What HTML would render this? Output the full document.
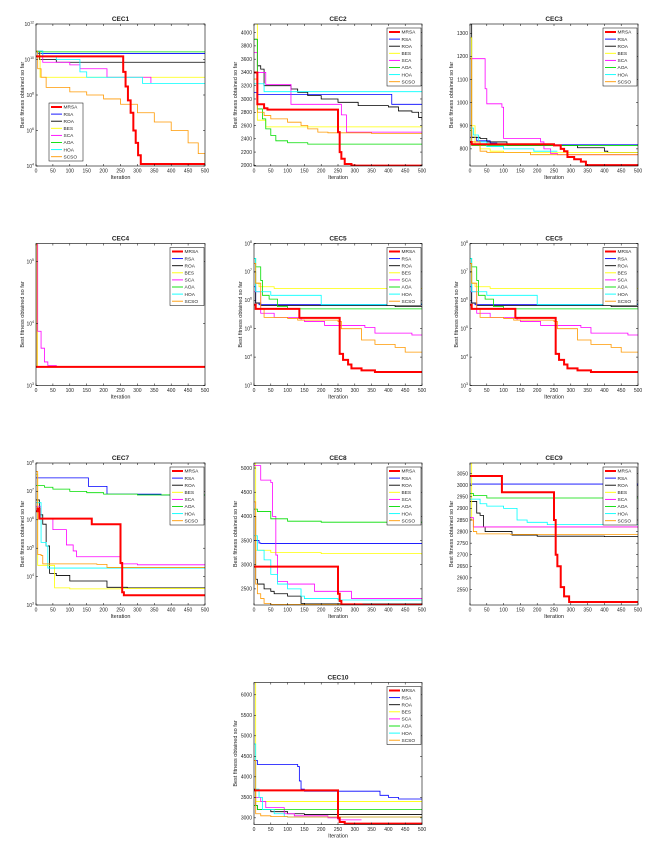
<!DOCTYPE html>
<html><head><meta charset="utf-8"><style>
html,body{margin:0;padding:0;background:#fff}
svg{display:block;font-family:"Liberation Sans",sans-serif}
</style></head><body>
<svg id="fig" width="653" height="844" viewBox="0 0 653 844" xmlns="http://www.w3.org/2000/svg"></svg>
<script>
// ---- data: step points [iteration, best fitness] ----
const seriesNames = ["MRSA","RSA","ROA","BES","SCA","AOA","HOA","SCSO"];
const seriesColors = ["#ff0000","#0000ff","#000000","#ffff00","#ff00ff","#00dd00","#00ffff","#ff9900"];
const xTicks = [0,50,100,150,200,250,300,350,400,450,500];

const cec1_MRSA=[[0,1.5e10],[250,1.5e10],[258,2e9],[265,3e8],[272,5e7],[280,1e7],[288,1e6],[295,2e5],[302,4e4],[310,1.3e4],[500,1.2e4]];
const cec1_RSA=[[0,3e10],[5,2.2e10],[500,2.2e10]];
const cec1_ROA=[[0,3e10],[10,1e10],[60,7e9],[500,7e9]];
const cec1_BES=[[0,3e10],[12,1e9],[500,1e9]];
const cec1_SCA=[[0,3e10],[20,7e9],[100,5e9],[130,3e9],[210,1e9],[340,4.6e8]];
const cec1_AOA=[[0,2.7e10],[500,2.6e10]];
const cec1_HOA=[[0,3e10],[20,1.5e10],[60,1e10],[130,2e9],[150,1e9],[315,4.5e8],[500,4.5e8]];
const cec1_SCSO=[[0,3e10],[5,3e9],[15,1e9],[30,2.7e8],[100,1.5e8],[150,1e8],[200,6e7],[250,3e7],[300,1e7],[350,3e6],[400,1e6],[450,2e5],[480,5e4],[500,1.5e4]];

const cec2_MRSA=[[0,3400],[10,2920],[30,2860],[40,2840],[250,2500],[255,2200],[260,2100],[270,2020],[290,2000],[300,1995],[500,1995]];
const cec2_RSA=[[0,3100],[10,3070],[410,2920],[500,2920]];
const cec2_ROA=[[0,3900],[10,3500],[20,3450],[30,3200],[110,3150],[130,3100],[160,3050],[200,3000],[250,2950],[310,2900],[400,2880],[430,2820],[470,2800],[490,2720],[500,2680]];
const cec2_BES=[[0,4130],[10,2680],[35,2580],[500,2580]];
const cec2_SCA=[[0,3700],[10,3400],[35,3220],[110,2920],[260,2760],[275,2500],[500,2500]];
const cec2_AOA=[[0,3900],[10,2850],[25,2700],[35,2550],[50,2450],[65,2370],[100,2340],[160,2320],[500,2320]];
const cec2_HOA=[[0,3230],[30,3110],[500,3110]];
const cec2_SCSO=[[0,3300],[10,2800],[30,2750],[50,2700],[100,2650],[140,2600],[160,2550],[190,2500],[220,2490],[350,2480],[500,2480]];

const cec3_MRSA=[[0,830],[5,820],[250,815],[270,800],[280,790],[290,765],[310,755],[330,745],[345,730],[500,730]];
const cec3_RSA=[[0,850],[20,835],[60,825],[80,818],[500,818]];
const cec3_ROA=[[0,1340],[5,850],[30,845],[50,830],[110,815],[265,815],[320,805],[400,790],[410,785],[500,785]];
const cec3_BES=[[0,1280],[5,900],[15,820],[30,800],[60,790],[100,785],[500,785]];
const cec3_SCA=[[0,1190],[45,1060],[50,995],[95,980],[100,845],[210,830],[220,800],[240,780],[260,775],[500,775]];
const cec3_AOA=[[0,880],[5,815],[500,815]];
const cec3_HOA=[[0,890],[10,860],[25,830],[50,810],[100,800],[190,790],[260,790]];
const cec3_SCSO=[[0,1190],[5,830],[30,790],[50,785],[180,775],[500,775]];

const cec4_MRSA=[[0,2e3],[500,2e3]];
const cec4_RSA=[[0,2e3],[500,2e3]];
const cec4_ROA=[[0,2e3],[500,2e3]];
const cec4_BES=[[0,1.95e5],[4,2e3],[500,2e3]];
const cec4_SCA=[[0,1.9e5],[5,7.5e3],[15,4e3],[25,2.4e3],[35,2.1e3],[60,2e3],[500,2e3]];
const cec4_AOA=[[0,2e3],[500,2e3]];
const cec4_HOA=[[0,2e3],[500,2e3]];
const cec4_SCSO=[[0,1.9e5],[3,2e3],[500,2e3]];

const cec5_MRSA=[[0,7e5],[5,5e5],[135,2.4e5],[255,1.3e4],[265,8e3],[280,5.5e3],[290,4e3],[320,3.4e3],[360,3e3],[500,3e3]];
const cec5_RSA=[[0,3e6],[5,8e5],[15,7e5],[500,7e5]];
const cec5_ROA=[[0,1e7],[5,8e5],[20,6.5e5],[420,6e5],[500,5.5e5]];
const cec5_BES=[[0,2e7],[5,4e6],[15,3e6],[60,2.6e6],[500,2.6e6]];
const cec5_SCA=[[0,2e6],[20,3.5e5],[60,2.5e5],[140,2e5],[150,1.8e5],[210,1.3e5],[330,1.1e5],[360,7e4],[470,6e4],[500,6e4]];
const cec5_AOA=[[0,3e7],[5,1.5e7],[20,5e6],[25,1.5e6],[45,1.1e6],[70,6e5],[100,5e5],[500,5e5]];
const cec5_HOA=[[0,3e7],[5,2e6],[50,1.5e6],[200,7e5],[480,7.5e5],[500,7.5e5]];
const cec5_SCSO=[[0,2e7],[5,4e6],[20,5e5],[30,2.5e5],[100,2.3e5],[130,2e5],[250,1.8e5],[260,1e5],[300,1e5],[320,4e4],[360,2.8e4],[420,2.2e4],[450,1.5e4],[500,1.5e4]];

const cec7_MRSA=[[0,2e6],[5,2.5e6],[10,1.1e6],[165,7e5],[250,3e4],[255,2.8e3],[260,2.2e3],[500,2.2e3]];
const cec7_RSA=[[0,3e7],[155,1.5e7],[210,8e6],[370,7.5e6],[500,7.5e6]];
const cec7_ROA=[[0,5e6],[10,1.5e6],[20,7e5],[30,1.2e5],[40,1.3e4],[60,1.1e4],[100,7e3],[210,4.2e3],[270,4e3],[500,4e3]];
const cec7_BES=[[0,4e7],[5,2.5e4],[55,4e3],[100,3.7e3],[250,3.8e3],[500,3.8e3]];
const cec7_SCA=[[0,3e6],[15,1.1e6],[50,4.5e5],[90,1.3e5],[110,8e4],[120,5e4],[250,2.8e4],[300,2.6e4],[500,2.5e4]];
const cec7_AOA=[[0,1.6e7],[25,1.4e7],[50,1.2e7],[100,1e7],[150,9e6],[200,8e6],[300,7.5e6],[500,7.3e6]];
const cec7_HOA=[[0,4e6],[15,1.6e5],[30,1.2e5],[35,2e4],[500,2e4]];
const cec7_SCSO=[[0,5e7],[5,6e4],[15,5.5e4],[20,2.8e4],[180,2.7e4],[210,2.1e4],[500,2.1e4]];

const cec8_MRSA=[[0,2960],[250,2400],[255,2250],[260,2180],[320,2170],[500,2170]];
const cec8_RSA=[[0,3500],[15,3450],[20,3440],[500,3440]];
const cec8_ROA=[[0,4000],[5,2700],[10,2600],[30,2500],[50,2450],[60,2400],[100,2350],[140,2200],[150,2190],[500,2190]];
const cec8_BES=[[0,5100],[5,3300],[50,3250],[200,3230],[500,3200]];
const cec8_SCA=[[0,5050],[20,4750],[50,4700],[55,4000],[65,3200],[70,2650],[100,2600],[180,2450],[290,2300],[500,2290]];
const cec8_AOA=[[0,4150],[10,4100],[50,3950],[100,3900],[200,3880],[500,3880]];
const cec8_HOA=[[0,3600],[10,3300],[30,3100],[50,2800],[70,2600],[100,2500],[140,2350],[150,2300],[250,2270],[500,2270]];
const cec8_SCSO=[[0,4300],[5,2600],[10,2400],[20,2300],[30,2200],[50,2180],[500,2180]];

const cec9_MRSA=[[0,3040],[95,2970],[250,2850],[255,2700],[260,2650],[270,2560],[280,2520],[295,2496],[500,2496]];
const cec9_RSA=[[0,3005],[500,2998]];
const cec9_ROA=[[0,2930],[20,2880],[30,2870],[40,2820],[45,2800],[125,2785],[200,2780],[400,2778],[500,2775]];
const cec9_BES=[[0,3096],[5,2850],[10,2820],[500,2820]];
const cec9_SCA=[[0,2860],[10,2820],[500,2815]];
const cec9_AOA=[[0,2965],[10,2955],[50,2945],[500,2945]];
const cec9_HOA=[[0,2940],[30,2920],[50,2910],[100,2900],[140,2850],[170,2840],[230,2830],[500,2830]];
const cec9_SCSO=[[0,2850],[10,2800],[20,2790],[120,2788],[500,2787]];

const cec10_MRSA=[[0,3670],[250,3000],[255,2900],[270,2860],[500,2860]];
const cec10_RSA=[[0,4400],[10,4300],[130,4250],[135,3900],[140,3700],[150,3650],[375,3550],[400,3500],[430,3460],[500,3460]];
const cec10_ROA=[[0,3700],[5,3300],[10,3200],[50,3150],[100,3100],[150,3080],[500,3080]];
const cec10_BES=[[0,6300],[5,3400],[500,3400]];
const cec10_SCA=[[0,3500],[20,3400],[35,3250],[90,3100],[120,3050],[220,3000],[250,2950],[320,2950]];
const cec10_AOA=[[0,3300],[10,3200],[500,3200]];
const cec10_HOA=[[0,4800],[5,3700],[15,3500],[25,3200],[60,3100],[90,3030],[100,3020],[500,2950]];
const cec10_SCSO=[[0,4400],[5,3100],[20,3050],[50,3030],[100,3020],[500,3020]];

const charts = [
 {title:"CEC1",col:0,row:0,log:true,ymin:4,ymax:12,ticks:[4,6,8,10,12],legend:"ll",series:[cec1_MRSA,cec1_RSA,cec1_ROA,cec1_BES,cec1_SCA,cec1_AOA,cec1_HOA,cec1_SCSO]},
 {title:"CEC2",col:1,row:0,log:false,ymin:1990,ymax:4130,ticks:[2000,2200,2400,2600,2800,3000,3200,3400,3600,3800,4000],series:[cec2_MRSA,cec2_RSA,cec2_ROA,cec2_BES,cec2_SCA,cec2_AOA,cec2_HOA,cec2_SCSO]},
 {title:"CEC3",col:2,row:0,log:false,ymin:726,ymax:1340,ticks:[800,900,1000,1100,1200,1300],series:[cec3_MRSA,cec3_RSA,cec3_ROA,cec3_BES,cec3_SCA,cec3_AOA,cec3_HOA,cec3_SCSO]},
 {title:"CEC4",col:0,row:1,log:true,ymin:3,ymax:5.29,ticks:[3,4,5],series:[cec4_MRSA,cec4_RSA,cec4_ROA,cec4_BES,cec4_SCA,cec4_AOA,cec4_HOA,cec4_SCSO]},
 {title:"CEC5",col:1,row:1,log:true,ymin:3,ymax:8,ticks:[3,4,5,6,7,8],series:[cec5_MRSA,cec5_RSA,cec5_ROA,cec5_BES,cec5_SCA,cec5_AOA,cec5_HOA,cec5_SCSO]},
 {title:"CEC5",col:2,row:1,log:true,ymin:3,ymax:8,ticks:[3,4,5,6,7,8],series:[cec5_MRSA,cec5_RSA,cec5_ROA,cec5_BES,cec5_SCA,cec5_AOA,cec5_HOA,cec5_SCSO]},
 {title:"CEC7",col:0,row:2,log:true,ymin:3,ymax:8,ticks:[3,4,5,6,7,8],series:[cec7_MRSA,cec7_RSA,cec7_ROA,cec7_BES,cec7_SCA,cec7_AOA,cec7_HOA,cec7_SCSO]},
 {title:"CEC8",col:1,row:2,log:false,ymin:2167,ymax:5104,ticks:[2500,3000,3500,4000,4500,5000],series:[cec8_MRSA,cec8_RSA,cec8_ROA,cec8_BES,cec8_SCA,cec8_AOA,cec8_HOA,cec8_SCSO]},
 {title:"CEC9",col:2,row:2,log:false,ymin:2483,ymax:3096,ticks:[2550,2600,2650,2700,2750,2800,2850,2900,2950,3000,3050],series:[cec9_MRSA,cec9_RSA,cec9_ROA,cec9_BES,cec9_SCA,cec9_AOA,cec9_HOA,cec9_SCSO]},
 {title:"CEC10",col:1,row:3,log:false,ymin:2838,ymax:6300,ticks:[3000,3500,4000,4500,5000,5500,6000],series:[cec10_MRSA,cec10_RSA,cec10_ROA,cec10_BES,cec10_SCA,cec10_AOA,cec10_HOA,cec10_SCSO]}
];

const NS="http://www.w3.org/2000/svg";
const svg=document.getElementById('fig');
const colL=[36,254,470], colW=[169,168,168];
const rowT=[24,243.5,463,682.5], plotH=142;
function mk(tag,attrs,parent){const e=document.createElementNS(NS,tag);for(const k in attrs)e.setAttribute(k,attrs[k]);(parent||svg).appendChild(e);return e;}

charts.forEach((c,ci)=>{
  const L=colL[c.col], W=colW[c.col], T=rowT[c.row], B=T+plotH, R=L+W;
  const g=mk('g',{});
  
  
  const xs=v=>L+v/500*W;
  const ys=v=>{const t=c.log?Math.log10(v):v;return B-(t-c.ymin)/(c.ymax-c.ymin)*plotH;};
  const ysT=t=>B-(t-c.ymin)/(c.ymax-c.ymin)*plotH;
  mk('rect',{x:L,y:T,width:W,height:plotH,fill:'#fff'},g);
  const cid='clip'+ci;
  const cp=mk('clipPath',{id:cid},g);mk('rect',{x:L,y:T,width:W,height:plotH},cp);
  const lg=mk('g',{'clip-path':'url(#'+cid+')'},g);
  // draw series (MRSA last so it sits on top)
  const order=[1,2,3,4,5,6,7,0];
  order.forEach(si=>{
    const pts=c.series[si];let d='';
    pts.forEach((p,i)=>{const X=xs(p[0]).toFixed(2),Y=ys(p[1]).toFixed(2);
      if(i===0)d+='M'+X+','+Y;else d+='H'+X+'V'+Y;});
    const path=mk('path',{d:d,fill:'none',stroke:seriesColors[si],'stroke-width':si===0?2:0.8},lg);
    
    
  });
  mk('rect',{x:L,y:T,width:W,height:plotH,fill:'none',stroke:'#000','stroke-width':0.6},g);
  // x ticks
  xTicks.forEach(v=>{const X=xs(v);
    mk('line',{x1:X,x2:X,y1:B,y2:B-2,stroke:'#000','stroke-width':0.5},g);
    mk('line',{x1:X,x2:X,y1:T,y2:T+2,stroke:'#000','stroke-width':0.5},g);
    const t=mk('text',{x:X,y:B+6.5,'font-size':5,'text-anchor':'middle',fill:'#222'},g);t.textContent=v;
    });
  // y ticks
  c.ticks.forEach(v=>{const Y=ysT(v);
    mk('line',{x1:L,x2:L+2,y1:Y,y2:Y,stroke:'#000','stroke-width':0.5},g);
    mk('line',{x1:R,x2:R-2,y1:Y,y2:Y,stroke:'#000','stroke-width':0.5},g);
    const t=mk('text',{x:L-2,y:Y+1.8,'font-size':5,'text-anchor':'end',fill:'#222'},g);
    if(c.log){t.textContent='10';const s=mk('tspan',{dy:-2.5,'font-size':3.5},t);s.textContent=v;}
    else t.textContent=v;
    });
  const tt=mk('text',{x:(L+R)/2,y:T-3,'font-size':6.5,'font-weight':'bold','text-anchor':'middle',fill:'#222'},g);tt.textContent=c.title;
  
  const xl=mk('text',{x:(L+R)/2,y:B+13,'font-size':5.5,'text-anchor':'middle',fill:'#222'},g);xl.textContent='Iteration';
  
  const yx=L-(c.log?12:17), yy=(T+B)/2;
  const yl=mk('text',{x:yx,y:yy,'font-size':5.5,'text-anchor':'middle',fill:'#222',transform:'rotate(-90 '+yx+' '+yy+')'},g);yl.textContent='Best fitness obtained so far';
  
  // legend
  let lx,ly;const lw=34,lh=58;
  if(c.legend==='ll'){lx=49;ly=103;}else{lx=R-lw-1;ly=T+4;}
  const leg=mk('g',{},g);
  
  mk('rect',{x:lx,y:ly,width:lw,height:lh,fill:'#fff',stroke:'#000','stroke-width':0.5},leg);
  seriesNames.forEach((n,i)=>{const Y=ly+4+i*7.1;
    mk('line',{x1:lx+2,x2:lx+13,y1:Y,y2:Y,stroke:seriesColors[i],'stroke-width':i===0?2:0.9},leg);
    const t=mk('text',{x:lx+14.5,y:Y+1.7,'font-size':4.8,fill:'#222'},leg);t.textContent=n;
    });
});
</script>
</body></html>
